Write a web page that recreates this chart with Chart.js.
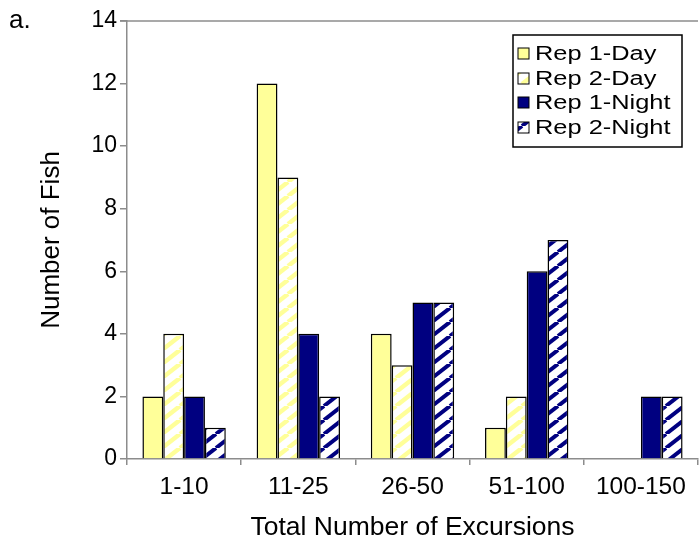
<!DOCTYPE html>
<html>
<head>
<meta charset="utf-8">
<script src="https://cdn.jsdelivr.net/npm/chart.js@4/dist/chart.umd.min.js"></script>
<style>
  html, body { margin: 0; padding: 0; background: #ffffff; }
  #wrap { width: 699px; height: 541px; position: relative; }
</style>
</head>
<body>
<div id="wrap"><canvas id="chart" width="699" height="541"></canvas></div>
<script>
// Excursion-count classes and fish counts per replicate / light period
const categories = ['1-10', '11-25', '26-50', '51-100', '100-150'];
const rep1Day   = [2, 12, 4, 1, 0];
const rep2Day   = [4, 9, 3, 2, 0];
const rep1Night = [2, 4, 5, 6, 2];
const rep2Night = [1, 2, 5, 7, 2];
const seriesNames = ['Rep 1-Day', 'Rep 2-Day', 'Rep 1-Night', 'Rep 2-Night'];
const yTicks = [0, 2, 4, 6, 8, 10, 12, 14];

const YELLOW = '#FFFF99';
const NAVY = '#000080';
const FONT = '"Liberation Sans", Arial, sans-serif';

// Diagonal "/" hatch on white
function hatch(color, thick) {
  const W = 18, H = 14;
  const c = document.createElement('canvas');
  c.width = W; c.height = H;
  const g = c.getContext('2d');
  g.fillStyle = '#ffffff';
  g.fillRect(0, 0, W, H);
  g.strokeStyle = color;
  g.lineWidth = thick;
  for (let k = -1; k <= 1; k++) {
    g.beginPath();
    g.moveTo(k * W, H);
    g.lineTo(k * W + W, 0);
    g.stroke();
  }
  return g.createPattern(c, 'repeat');
}
const yellowHatch = hatch(YELLOW, 4.5);
const navyHatch = hatch(NAVY, 4);

const fills = [YELLOW, yellowHatch, NAVY, navyHatch];
const seriesData = [rep1Day, rep2Day, rep1Night, rep2Night];

const datasets = seriesData.map((d, i) => ({
  label: seriesNames[i],
  data: d,
  backgroundColor: fills[i],
  borderColor: '#000000',
  borderWidth: 1.5,
  categoryPercentage: 0.73,
  barPercentage: 1.0
}));

// Frame line along the top of the plot and the panel letter
const framePlugin = {
  id: 'frame',
  afterDraw(chart) {
    const { ctx, chartArea } = chart;
    ctx.save();
    ctx.strokeStyle = '#8c8c8c';
    ctx.lineWidth = 1.5;
    ctx.beginPath();
    ctx.moveTo(chartArea.left - 7, chartArea.top);
    ctx.lineTo(chartArea.right, chartArea.top);
    ctx.stroke();
    ctx.fillStyle = '#000000';
    ctx.font = '26px ' + FONT;
    ctx.textBaseline = 'alphabetic';
    ctx.textAlign = 'left';
    ctx.fillText('a.', 9, 28);
    ctx.restore();
  }
};

// Boxed legend in the upper right of the plot
const legendPlugin = {
  id: 'boxLegend',
  afterDraw(chart) {
    const { ctx } = chart;
    const x0 = 513, y0 = 35, w = 169, h = 112;
    ctx.save();
    ctx.fillStyle = '#ffffff';
    ctx.fillRect(x0, y0, w, h);
    ctx.strokeStyle = '#000000';
    ctx.lineWidth = 1.5;
    ctx.strokeRect(x0, y0, w, h);
    const rowY = [53, 78, 102, 127];
    seriesNames.forEach((name, i) => {
      const cy = rowY[i];
      ctx.fillStyle = fills[i];
      ctx.fillRect(518, cy - 5, 11, 11);
      ctx.strokeStyle = '#000000';
      ctx.lineWidth = 1;
      ctx.strokeRect(518, cy - 5, 11, 11);
      ctx.save();
      ctx.translate(535, cy);
      ctx.scale(1.27, 1);
      ctx.fillStyle = '#000000';
      ctx.font = '20px ' + FONT;
      ctx.textAlign = 'left';
      ctx.textBaseline = 'middle';
      ctx.fillText(name, 0, 1);
      ctx.restore();
    });
    ctx.restore();
  }
};

new Chart(document.getElementById('chart'), {
  type: 'bar',
  data: { labels: categories, datasets },
  options: {
    responsive: false,
    animation: false,
    devicePixelRatio: 1,
    layout: { padding: { top: 21, right: 1, bottom: 0, left: 0 } },
    plugins: {
      legend: { display: false },
      tooltip: { enabled: false }
    },
    scales: {
      x: {
        offset: true,
        grid: {
          display: true,
          drawOnChartArea: false,
          drawTicks: true,
          tickLength: 6,
          color: '#8c8c8c',
          lineWidth: 1.5,
          offset: true
        },
        border: { display: true, color: '#8c8c8c', width: 1.5 },
        ticks: {
          color: '#000000',
          font: { family: FONT, size: 24.5 },
          padding: 8,
          maxRotation: 0
        },
        title: {
          display: true,
          text: 'Total Number of Excursions',
          color: '#000000',
          font: { family: FONT, size: 26.5, lineHeight: 1.0 },
          padding: { top: 0, bottom: 0 }
        },
        afterFit(scale) { scale.height = 82; }
      },
      y: {
        min: 0,
        max: 14,
        afterBuildTicks(scale) { scale.ticks = yTicks.map(v => ({ value: v })); },
        grid: {
          display: true,
          drawOnChartArea: false,
          drawTicks: true,
          tickLength: 7,
          color: '#8c8c8c',
          lineWidth: 1.5
        },
        border: { display: true, color: '#8c8c8c', width: 1.5 },
        ticks: {
          color: '#000000',
          font: { family: FONT, size: 23 },
          padding: 3
        },
        title: {
          display: true,
          text: 'Number of Fish',
          color: '#000000',
          font: { family: FONT, size: 26 },
          padding: { top: 36, bottom: 0 }
        },
        afterFit(scale) { scale.width = 127; }
      }
    }
  },
  plugins: [framePlugin, legendPlugin]
});
</script>
</body>
</html>
